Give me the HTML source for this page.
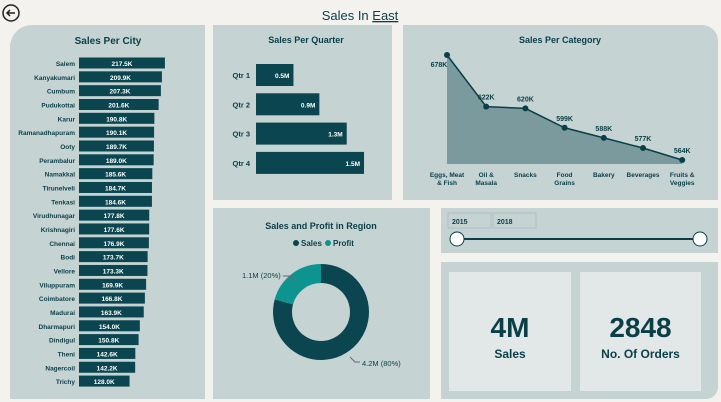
<!DOCTYPE html>
<html><head><meta charset="utf-8"><style>
body{margin:0;width:721px;height:402px;background:#f3f2ef;font-family:"Liberation Sans",sans-serif;overflow:hidden;position:relative}
.p{position:absolute;background:#c5d3d3}
svg{position:absolute;left:0;top:0}
</style></head><body>
<div class="p" style="left:10px;top:25px;width:195px;height:374px;border-top-left-radius:22px"></div>
<div class="p" style="left:213px;top:25px;width:179px;height:175px"></div>
<div class="p" style="left:403px;top:25px;width:315px;height:175px;border-top-right-radius:16px"></div>
<div class="p" style="left:213px;top:208px;width:217px;height:191px"></div>
<div class="p" style="left:441px;top:208px;width:277px;height:45px"></div>
<div class="p" style="left:441px;top:262px;width:277px;height:137px;border-bottom-right-radius:12px"></div>
<div style="position:absolute;left:449px;top:272px;width:122px;height:119px;background:#e2e8e8;text-align:center;color:#0a3f48;font-weight:bold">
<div style="font-size:28px;margin-top:40px">4M</div><div style="font-size:12px;margin-top:3px">Sales</div></div>
<div style="position:absolute;left:580px;top:272px;width:121px;height:119px;background:#e2e8e8;text-align:center;color:#0a3f48;font-weight:bold">
<div style="font-size:28px;margin-top:40px">2848</div><div style="font-size:12px;margin-top:3px">No. Of Orders</div></div>
<svg id="s" width="721" height="402" font-family="Liberation Sans, sans-serif">
<circle cx="11" cy="13" r="8" fill="none" stroke="#222" stroke-width="1.5"/>
<path d="M15 13H7M10 10L7 13L10 16" fill="none" stroke="#222" stroke-width="1.5"/>
<text x="360" y="20" font-size="13" text-anchor="middle" fill="#0a3f48">Sales In <tspan text-decoration="underline">East</tspan></text>
<text x="108" y="44" font-size="10" font-weight="bold" text-anchor="middle" fill="#0a3f48">Sales Per City</text>
<text x="306" y="43" font-size="9" font-weight="bold" text-anchor="middle" fill="#0a3f48">Sales Per Quarter</text>
<text x="560" y="43" font-size="9" font-weight="bold" text-anchor="middle" fill="#0a3f48">Sales Per Category</text>
<text x="321" y="229" font-size="9" font-weight="bold" text-anchor="middle" fill="#0a3f48">Sales and Profit in Region</text>
<circle cx="296" cy="243" r="3" fill="#0a4550"/><text x="301" y="246" font-size="8" font-weight="bold" fill="#0a3f48">Sales</text>
<circle cx="328" cy="243" r="3" fill="#0e9490"/><text x="333" y="246" font-size="8" font-weight="bold" fill="#0a3f48">Profit</text>
<rect x="448" y="213" width="43" height="15" fill="none" stroke="#b0bfbf"/>
<text x="452" y="224" font-size="7" font-weight="bold" fill="#0a3f48">2015</text>
<rect x="493" y="213" width="43" height="15" fill="none" stroke="#b0bfbf"/>
<text x="497" y="224" font-size="7" font-weight="bold" fill="#0a3f48">2018</text>
<line x1="457" y1="239" x2="700" y2="239" stroke="#0a3f48" stroke-width="2"/>
<circle cx="457" cy="239" r="7" fill="#fff" stroke="#0a3f48"/>
<circle cx="700" cy="239" r="7" fill="#fff" stroke="#0a3f48"/>
<g id="g"></g>
</svg>
<script>
const cities=["Salem","Kanyakumari","Cumbum","Pudukottai","Karur","Ramanadhapuram","Ooty","Perambalur","Namakkal","Tirunelveli","Tenkasi","Virudhunagar","Krishnagiri","Chennai","Bodi","Vellore","Viluppuram","Coimbatore","Madurai","Dharmapuri","Dindigul","Theni","Nagercoil","Trichy"];
const citySales=[217.5,209.9,207.3,201.6,190.8,190.1,189.7,189.0,185.6,184.7,184.6,177.8,177.6,176.9,173.7,173.3,169.9,166.8,163.9,154.0,150.8,142.6,142.2,128.0];
const quarters=["Qtr 1","Qtr 2","Qtr 3","Qtr 4"];
const quarterSales=[0.52,0.88,1.26,1.5];
const quarterLabels=["0.5M","0.9M","1.3M","1.5M"];
const categories=[["Eggs, Meat","& Fish"],["Oil &","Masala"],["Snacks"],["Food","Grains"],["Bakery"],["Beverages"],["Fruits &","Veggies"]];
const categorySales=[678,622,620,599,588,577,564];
const regionParts=["Sales","Profit"];
const regionValues=[4.2,1.1];
const regionLabels=["4.2M (80%)","1.1M (20%)"];

const NS="http://www.w3.org/2000/svg",g=document.getElementById('g');
function mk(t,a,txt){const e=document.createElementNS(NS,t);for(const k in a)e.setAttribute(k,a[k]);if(txt!=null)e.textContent=txt;g.appendChild(e);return e;}
const D="#0a4550",T="#0a3f48";
const cx=v=>v*0.395, cy=i=>63+i*13.83;
cities.forEach((c,i)=>{
 const y=cy(i);
 let l=mk('text',{x:75,y:y+3,'font-size':6.5,'font-weight':'bold','text-anchor':'end',fill:T},c);
 
 
 let r=mk('rect',{x:79,y:y-5.5,width:cx(citySales[i]),height:11,fill:D});
 
 
 mk('text',{x:79+cx(citySales[i])/2,y:y+3,'font-size':6.5,'font-weight':'bold','text-anchor':'middle',fill:'#fff'},citySales[i].toFixed(1)+'K');
});
const qx=v=>v*72, qy=i=>75+i*29.3;
quarters.forEach((q,i)=>{
 const y=qy(i);
 mk('text',{x:250,y:y+3,'font-size':7.5,'font-weight':'bold','text-anchor':'end',fill:T},q);
 let r=mk('rect',{x:256,y:y-11,width:qx(quarterSales[i]),height:22,fill:D});
 
 
 mk('text',{x:256+qx(quarterSales[i])-4,y:y+3,'font-size':6.5,'font-weight':'bold','text-anchor':'end',fill:'#fff'},quarterLabels[i]);
});
const kx=i=>447+i*39.2, ky=v=>160-(v-564)*0.921, base=164;
let d='M'+kx(0)+' '+base;categorySales.forEach((v,i)=>d+=' L'+kx(i)+' '+ky(v));d+=' L'+kx(6)+' '+base+'Z';
let a=mk('path',{d:d,fill:'#7a9a9e'});


let ln=mk('polyline',{points:categorySales.map((v,i)=>kx(i)+','+ky(v)).join(' '),fill:'none',stroke:T,'stroke-width':1.5});


categorySales.forEach((v,i)=>{
 let p=mk('circle',{cx:kx(i),cy:ky(v),r:3,fill:T});
 
 
 mk('text',{x:kx(i)+(i==0?-8:0),y:ky(v)+(i==0?12:-7),'font-size':7,'font-weight':'bold','text-anchor':'middle',fill:T},v+'K');
 categories[i].forEach((s,j)=>mk('text',{x:kx(i),y:177+j*8,'font-size':6.5,'font-weight':'bold','text-anchor':'middle',fill:T},s));
});
const tot=regionValues.reduce((a,b)=>a+b,0),ocx=321,ocy=312,R=48,r0=29;
let ang=0;const cols=[D,"#0e9490"];
regionValues.forEach((v,i)=>{
 const a0=ang,a1=ang+v/tot*2*Math.PI;ang=a1;
 const P=(a,r)=>[ocx+r*Math.sin(a),ocy-r*Math.cos(a)];
 const lg=(a1-a0)>Math.PI?1:0;
 const [x1,y1]=P(a0,R),[x2,y2]=P(a1,R),[x3,y3]=P(a1,r0),[x4,y4]=P(a0,r0);
 let s=mk('path',{d:`M${x1} ${y1}A${R} ${R} 0 ${lg} 1 ${x2} ${y2}L${x3} ${y3}A${r0} ${r0} 0 ${lg} 0 ${x4} ${y4}Z`,fill:cols[i]});
 
 
});
mk('text',{x:242,y:278,'font-size':7.5,fill:T},regionLabels[1]);
mk('path',{d:'M283 276H290L295 281',fill:'none',stroke:'#667'});
mk('text',{x:362,y:366,'font-size':7.5,fill:T},regionLabels[0]);
mk('path',{d:'M350 357L355 362H360',fill:'none',stroke:'#667'});
</script>
</body></html>
